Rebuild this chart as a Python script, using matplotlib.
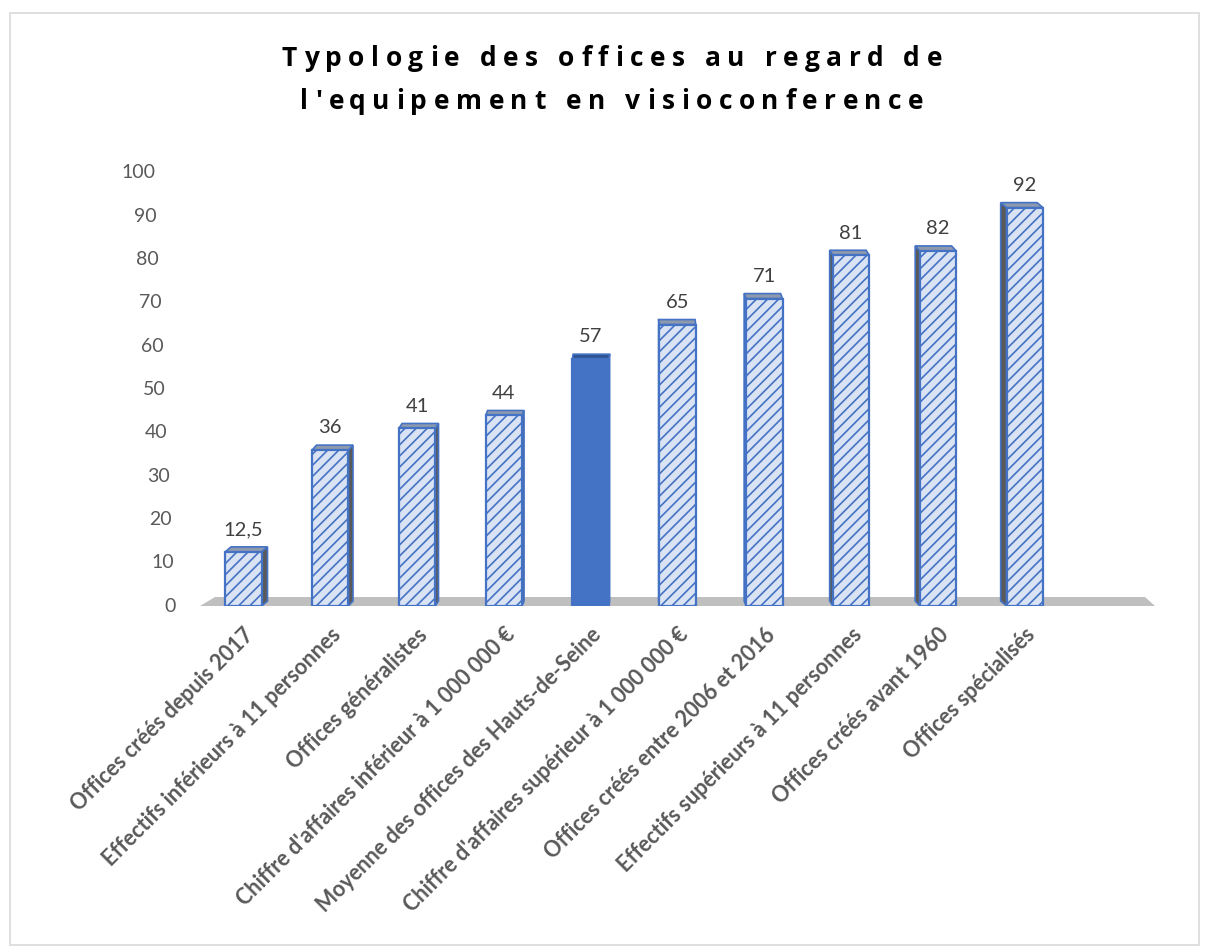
import matplotlib
matplotlib.use('Agg')
import matplotlib.pyplot as plt
from matplotlib.patches import Polygon, Rectangle
from matplotlib.font_manager import FontProperties

categories = ['Offices créés depuis 2017',
              'Effectifs inférieurs à 11 personnes',
              'Offices généralistes',
              "Chiffre d'affaires inférieur à 1 000 000 €",
              'Moyenne des offices des Hauts-de-Seine',
              "Chiffre d'affaires supérieur à 1 000 000 €",
              'Offices créés entre 2006 et 2016',
              'Effectifs supérieurs à 11 personnes',
              'Offices créés avant 1960',
              'Offices spécialisés']
values = [12.5, 36, 41, 44, 57, 65, 71, 81, 82, 92]
value_labels = ['12,5', '36', '41', '44', '57', '65', '71', '81', '82', '92']
highlight = 4  # the Hauts-de-Seine average bar is drawn solid
yticks = [0, 10, 20, 30, 40, 50, 60, 70, 80, 90, 100]
title_lines = ["Typologie des offices au regard de", "l'equipement en visioconference"]

plt.rcParams['hatch.linewidth'] = 1.2
plt.rcParams['font.family'] = ['Lato', 'DejaVu Sans']

W, H = 1209, 952
fig = plt.figure(figsize=(W / 100, H / 100), dpi=100)

# chart frame
fig.patches.append(Rectangle((10 / W, 7 / H), 1189 / W, 932 / H, transform=fig.transFigure,
                             fill=False, edgecolor='#d9d9d9', linewidth=1.2))

ax = fig.add_axes([200 / W, (H - 606) / H, 955 / W, 433 / H])
ax.set_xlim(-0.5, 10.5)
ax.set_ylim(0, 100)
for s in ax.spines.values():
    s.set_visible(False)

# pixel -> data scales
px_x = 955 / 11.0
px_y = 433 / 100.0

# floor (grey slab)
fdy = 9 / px_y
floor = Polygon([(-0.5, 0), (10.5, 0), (10.5 - 10 / px_x, fdy), (-0.5 + 15 / px_x, fdy)],
                closed=True, facecolor='#bfbfbf', edgecolor='none', zorder=1)
ax.add_patch(floor)

blue = '#4472c4'
w = 0.42
dy = 5 / px_y
for i, v in enumerate(values):
    dx = -1.3 * (i - 4.5) / px_x
    solid = (i == highlight)
    face = blue if solid else '#dae3f3'
    hatch = None if solid else '///'
    xl, xr = i - w / 2, i + w / 2
    # side face
    if dx > 0:
        side = [(xr, 0), (xr + dx, dy), (xr + dx, v + dy), (xr, v)]
    else:
        side = [(xl, 0), (xl + dx, dy), (xl + dx, v + dy), (xl, v)]
    ax.add_patch(Polygon(side, closed=True, facecolor='#2f5597' if solid else '#595959',
                         edgecolor=blue, linewidth=1.2, zorder=2))
    # top face
    top = [(xl, v), (xr, v), (xr + dx, v + dy), (xl + dx, v + dy)]
    ax.add_patch(Polygon(top, closed=True, facecolor='#2f5597' if solid else '#8d99ad',
                         edgecolor=blue, linewidth=1.2, zorder=2))
    ax.bar(i, v, width=w, color=face, edgecolor=blue, hatch=hatch,
           linewidth=1.6, zorder=3)
    ax.annotate(value_labels[i], (i, v), xytext=(0, 16), textcoords='offset points',
                ha='center', va='center', fontsize=14.5, color='#404040')

# y labels, slanted like the 3D wall
ax.set_yticks([])
for t in yticks:
    xr_px = 176 - 0.21 * t
    ax.text((xr_px - 200) / 955, t, str(t), transform=ax.get_yaxis_transform(),
            ha='right', va='center', fontsize=14, color='#595959')

ax.set_xticks(range(len(categories)))
ax.set_xticklabels(categories, rotation=45, ha='right', va='top', rotation_mode='anchor',
                   fontsize=15.5, fontweight='bold', color='#595959')
ax.tick_params(axis='x', length=0, pad=13)

# letter-spaced title, placed char by char
tprop = FontProperties(family='Open Sans', weight='bold', size=19)
renderer = fig.canvas.get_renderer()


def prefix_widths(s):
    # width in px of s[:k] for every k
    out = [0.0]
    for k in range(1, len(s) + 1):
        wdt, _, _ = renderer.get_text_width_height_descent(s[:k].replace(' ', '\u00a0'),
                                                           tprop, ismath=False)
        out.append(wdt)
    return out


p1 = prefix_widths(title_lines[0])
spacing = (660 - p1[-1]) / (len(title_lines[0]) - 1)
for line, base in zip(title_lines, [66, 109]):
    pw = prefix_widths(line)
    total = pw[-1] + spacing * (len(line) - 1)
    x0 = 612 - total / 2
    for k, ch in enumerate(line):
        if ch == ' ':
            continue
        fig.text((x0 + pw[k] + spacing * k) / W, 1 - base / H, ch, ha='left',
                 va='baseline', fontproperties=tprop, color='black')

fig.savefig('out.png', dpi=100)
